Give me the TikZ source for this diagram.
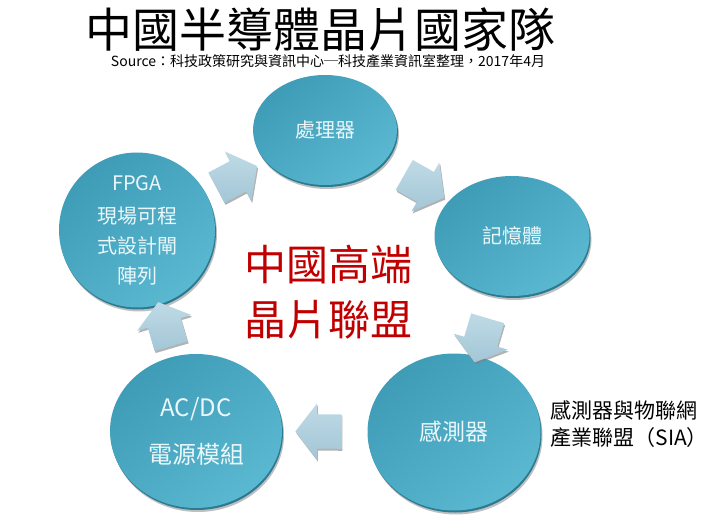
\documentclass[tikz,border=0pt]{standalone}
\usepackage{fontspec}
\setmainfont{Noto Sans CJK TC}
\usetikzlibrary{shapes.geometric,shapes.arrows,shadows}
\definecolor{discdark}{HTML}{3F9CB7}
\definecolor{disclight}{HTML}{5BB8D1}
\definecolor{discrim}{HTML}{2C7A91}
\definecolor{flowfill}{HTML}{A3C6D6}
\definecolor{flowlight}{HTML}{BFDAE6}
\definecolor{alliance}{HTML}{C00000}

\begin{document}
\begin{tikzpicture}
	[x=1pt,y=-1pt,
	 disc/.style={ellipse,inner sep=0pt,text=white!88!disclight,align=center,
	   top color=discdark,bottom color=disclight,shading angle=40,
	   drop shadow={shadow xshift=2pt,shadow yshift=-4pt,fill=black,opacity=0.25},
	   drop shadow={shadow xshift=1pt,shadow yshift=-2pt,fill=discrim,opacity=1}},
	 flow/.style={single arrow,sloped,allow upside down,inner xsep=0pt,inner ysep=17pt,
	   minimum height=46pt,single arrow head extend=11pt,
	   single arrow tip angle=105,
	   top color=flowlight,bottom color=flowfill,
	   drop shadow={shadow xshift=1pt,shadow yshift=-2pt,fill=gray,opacity=0.6}}]
\useasboundingbox (0,0) rectangle (727,518);
% title and source
\node[font=\fontsize{47}{50}\selectfont] (title) at (320,30) {中國半導體晶片國家隊};
\node[font=\fontsize{14}{16}\selectfont] (src) at (328,61)
  {Source：科技政策研究與資訊中心─科技產業資訊室整理，2017年4月};
% the five members
\node[disc,minimum width=144,minimum height=110,font=\fontsize{20}{24}\selectfont]
  (cpu) at (325,130) {處理器};
\node[disc,minimum width=155,minimum height=120,font=\fontsize{20}{24}\selectfont]
  (mem) at (512,236) {記憶體};
\node[disc,minimum width=173,minimum height=157,font=\fontsize{23}{26}\selectfont]
  (sen) at (454,432) {感測器};
\node[disc,minimum width=172,minimum height=154,font=\fontsize{24}{30}\selectfont]
  (pwr) at (196,431) {AC/DC\\[17pt]電源模組};
\node[disc,minimum width=156,minimum height=116,font=\fontsize{20}{30}\selectfont]
  (fpga) at (137,230) {FPGA\\[3pt]現場可程\\式設計閘\\陣列};
\foreach \a/\b in {fpga/cpu,cpu/mem,mem/sen,sen/pwr,pwr/fpga}
  \path (\a.center) -- node[flow] (\a-\b) {} (\b.center);
\node[font=\fontsize{42}{55}\selectfont,text=alliance,align=center]
  (core) at (328,292) {中國高端\\晶片聯盟};
\node[font=\fontsize{21}{27}\selectfont,align=left,anchor=west]
  (sia) at (547,424) {感測器與物聯網\\產業聯盟（SIA）};
\end{tikzpicture}
\end{document}
